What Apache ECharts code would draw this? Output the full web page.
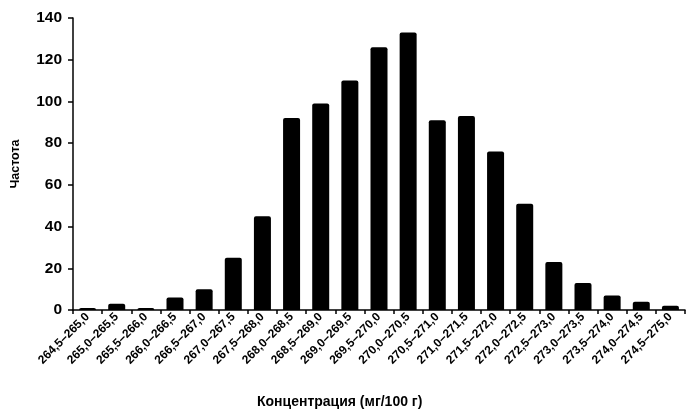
<!DOCTYPE html>
<html>
<head>
<meta charset="utf-8">
<script src="https://cdn.jsdelivr.net/npm/echarts@6/dist/echarts.min.js"></script>
<style>
  html, body { margin: 0; padding: 0; background: #fff; }
  #chart { width: 686px; height: 411px; }
</style>
</head>
<body>
<div id="chart"></div>
<script>
// Concentration intervals (mg/100 g)
const categories = [
  '264,5–265,0', '265,0–265,5', '265,5–266,0', '266,0–266,5', '266,5–267,0',
  '267,0–267,5', '267,5–268,0', '268,0–268,5', '268,5–269,0', '269,0–269,5',
  '269,5–270,0', '270,0–270,5', '270,5–271,0', '271,0–271,5', '271,5–272,0',
  '272,0–272,5', '272,5–273,0', '273,0–273,5', '273,5–274,0', '274,0–274,5',
  '274,5–275,0'
];
// Frequency per interval
const frequencies = [1, 3, 1, 6, 10, 25, 45, 92, 99, 110, 126, 133, 91, 93, 76, 51, 23, 13, 7, 4, 2];
// Y axis ticks
const yTicks = { min: 0, max: 140, interval: 20 };

const font = 'Liberation Sans, Arial, sans-serif';
const chart = echarts.init(document.getElementById('chart'), null, { renderer: 'canvas' });

chart.setOption({
  animation: false,
  backgroundColor: '#fff',
  grid: { left: 73, right: 1, top: 18, bottom: 101 },
  xAxis: {
    type: 'category',
    data: categories,
    axisLine: { lineStyle: { color: '#000', width: 1.5 } },
    axisTick: { show: true, length: 4, lineStyle: { color: '#000', width: 1.5 } },
    axisLabel: {
      rotate: 45, interval: 0, margin: 5,
      color: '#000', fontFamily: font, fontWeight: 'bold', fontSize: 12
    },
    splitLine: { show: false }
  },
  yAxis: {
    type: 'value',
    min: yTicks.min, max: yTicks.max, interval: yTicks.interval,
    axisLine: { show: true, lineStyle: { color: '#000', width: 1.5 } },
    axisTick: { show: true, length: 5, lineStyle: { color: '#000', width: 1.5 } },
    axisLabel: { margin: 11, color: '#000', fontFamily: font, fontWeight: 'bold', fontSize: 15.5 },
    splitLine: { show: false },
    name: 'Частота',
    nameLocation: 'middle',
    nameGap: 51,
    nameRotate: 90,
    nameTextStyle: { color: '#000', fontFamily: font, fontWeight: 'bold', fontSize: 12.5 }
  },
  series: [{
    type: 'bar',
    data: frequencies,
    barWidth: 17,
    itemStyle: { color: '#000', borderRadius: [2, 2, 0, 0] }
  }],
  graphic: [{
    type: 'text',
    left: 257,
    top: 395,
    style: {
      text: 'Концентрация (мг/100 г)',
      fill: '#000',
      font: 'bold 14px ' + font
    }
  }]
});
</script>
</body>
</html>
